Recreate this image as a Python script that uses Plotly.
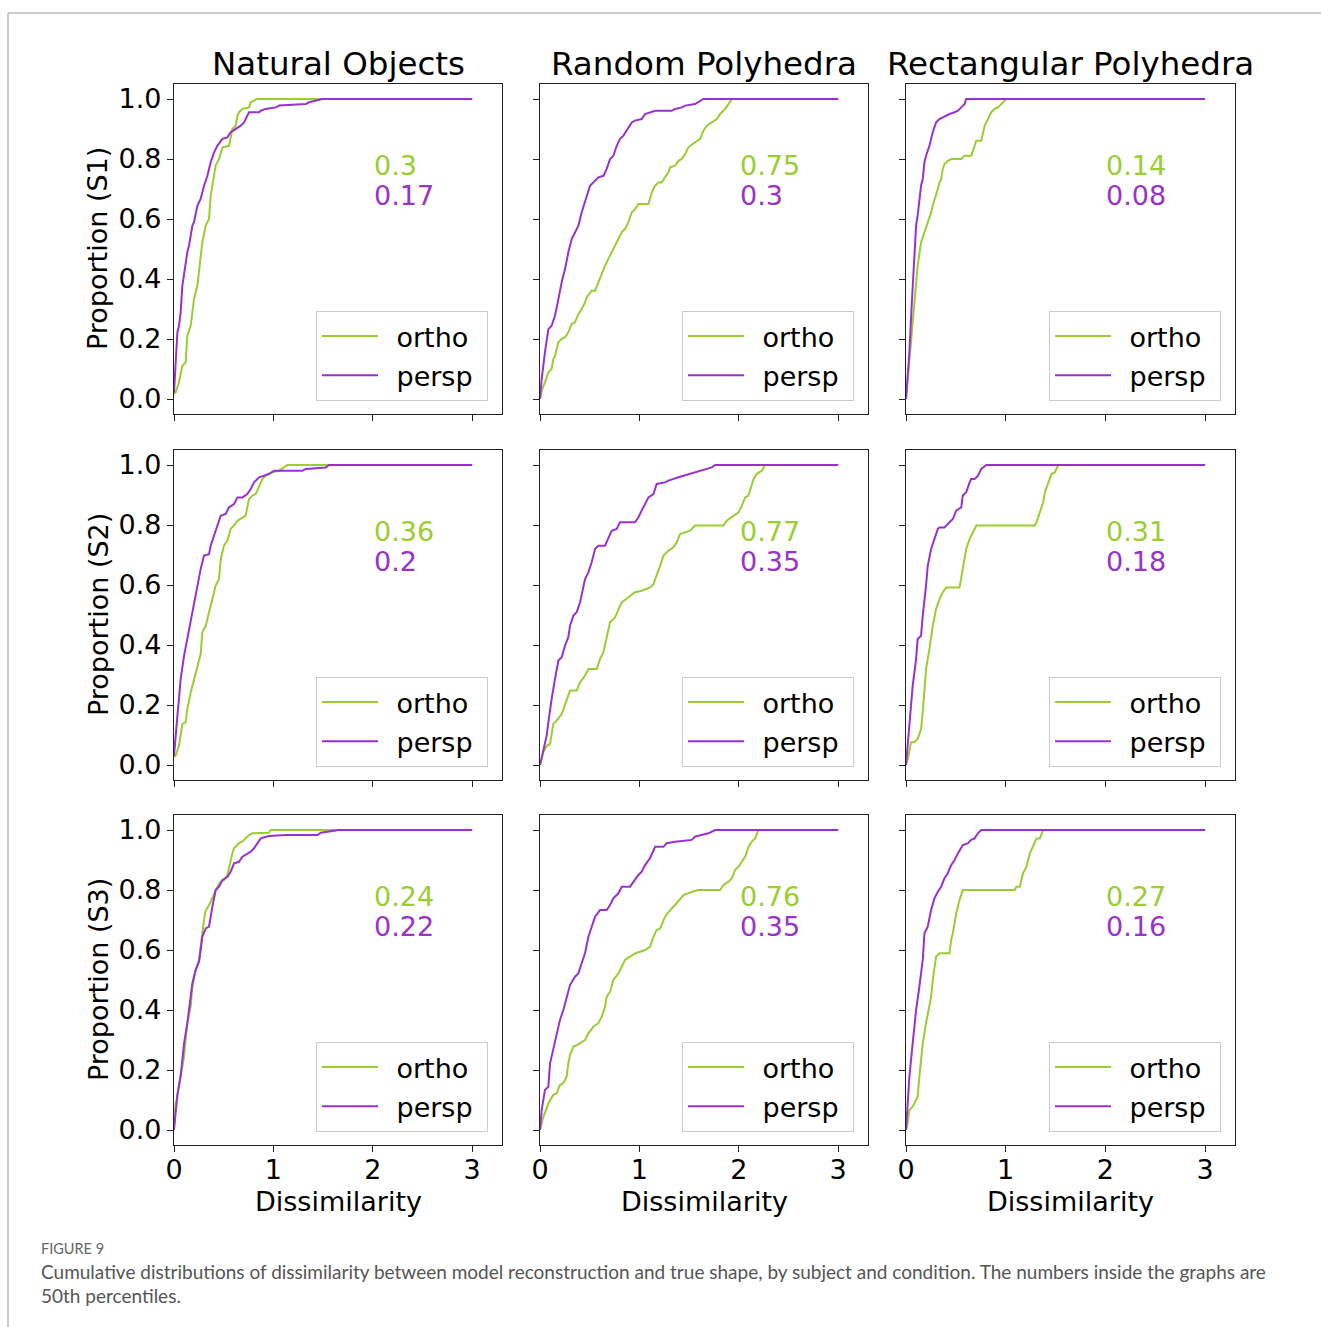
import plotly.graph_objects as go

# ---------------- data ----------------
conditions = ["Natural Objects", "Random Polyhedra", "Rectangular Polyhedra"]
subjects = ["Proportion (S1)", "Proportion (S2)", "Proportion (S3)"]
series_names = ["ortho", "persp"]
x_ticks = [0, 1, 2, 3]
y_ticks = [0.0, 0.2, 0.4, 0.6, 0.8, 1.0]

median_ortho = [["0.3", "0.75", "0.14"], ["0.36", "0.77", "0.31"], ["0.24", "0.76", "0.27"]]
median_persp = [["0.17", "0.3", "0.08"], ["0.2", "0.35", "0.18"], ["0.22", "0.35", "0.16"]]

# S1 - Natural Objects
no1_o_x = [0, 0.017, 0.05, 0.084, 0.117, 0.134, 0.168, 0.201, 0.235, 0.268, 0.285, 0.319, 0.352, 0.369, 0.403, 0.419, 0.453, 0.487, 0.554, 0.587, 0.621, 0.638, 0.654, 0.688, 0.755, 0.772, 0.822, 0.839, 3.0]
no1_o_y = [0.017, 0.022, 0.056, 0.111, 0.122, 0.211, 0.244, 0.333, 0.378, 0.467, 0.522, 0.578, 0.6, 0.678, 0.756, 0.778, 0.8, 0.839, 0.844, 0.9, 0.911, 0.944, 0.956, 0.967, 0.972, 0.989, 0.998, 1.0, 1.0]
no1_p_x = [0, 0.017, 0.034, 0.05, 0.067, 0.084, 0.101, 0.134, 0.151, 0.185, 0.201, 0.235, 0.268, 0.302, 0.336, 0.369, 0.403, 0.436, 0.487, 0.537, 0.570, 0.621, 0.671, 0.705, 0.738, 0.755, 0.856, 0.872, 0.923, 1.023, 1.057, 1.326, 1.359, 1.493, 3.0]
no1_p_y = [0.022, 0.111, 0.222, 0.244, 0.289, 0.378, 0.422, 0.489, 0.511, 0.578, 0.589, 0.644, 0.667, 0.711, 0.744, 0.789, 0.822, 0.844, 0.867, 0.872, 0.889, 0.9, 0.911, 0.922, 0.944, 0.956, 0.956, 0.961, 0.967, 0.972, 0.978, 0.983, 0.989, 1.0, 1.0]

# S1 - Random Polyhedra
rp1_o_x = [0, 0.017, 0.05, 0.084, 0.117, 0.134, 0.151, 0.185, 0.218, 0.252, 0.285, 0.319, 0.352, 0.386, 0.419, 0.453, 0.470, 0.520, 0.554, 0.587, 0.621, 0.654, 0.688, 0.721, 0.755, 0.789, 0.822, 0.856, 0.889, 0.923, 0.956, 0.990, 1.091, 1.124, 1.158, 1.191, 1.225, 1.258, 1.292, 1.309, 1.359, 1.393, 1.426, 1.460, 1.493, 1.560, 1.611, 1.644, 1.678, 1.728, 1.779, 1.812, 1.862, 1.896, 1.930, 3.0]
rp1_o_y = [0, 0.028, 0.056, 0.089, 0.1, 0.133, 0.144, 0.189, 0.2, 0.206, 0.222, 0.25, 0.256, 0.283, 0.3, 0.322, 0.339, 0.361, 0.361, 0.389, 0.411, 0.444, 0.467, 0.489, 0.511, 0.533, 0.556, 0.567, 0.589, 0.622, 0.633, 0.65, 0.65, 0.689, 0.711, 0.722, 0.722, 0.739, 0.756, 0.772, 0.778, 0.794, 0.8, 0.817, 0.839, 0.856, 0.867, 0.894, 0.911, 0.922, 0.933, 0.95, 0.967, 0.983, 1.0, 1.0]
rp1_p_x = [0, 0.017, 0.05, 0.084, 0.117, 0.151, 0.185, 0.218, 0.252, 0.285, 0.319, 0.352, 0.386, 0.419, 0.453, 0.487, 0.503, 0.537, 0.587, 0.638, 0.671, 0.705, 0.738, 0.772, 0.805, 0.839, 0.889, 0.923, 0.956, 1.023, 1.057, 1.124, 1.158, 1.326, 1.359, 1.426, 1.460, 1.560, 1.594, 1.644, 3.0]
rp1_p_y = [0, 0.067, 0.156, 0.233, 0.244, 0.278, 0.333, 0.389, 0.433, 0.489, 0.533, 0.556, 0.578, 0.622, 0.656, 0.689, 0.711, 0.722, 0.739, 0.744, 0.767, 0.8, 0.811, 0.844, 0.867, 0.878, 0.906, 0.922, 0.928, 0.933, 0.95, 0.956, 0.961, 0.961, 0.967, 0.972, 0.978, 0.983, 0.989, 1.0, 1.0]

# S1 - Rectangular Polyhedra
rr1_o_x = [0, 0.017, 0.044, 0.067, 0.091, 0.117, 0.151, 0.168, 0.201, 0.218, 0.252, 0.268, 0.302, 0.319, 0.336, 0.352, 0.369, 0.386, 0.419, 0.453, 0.554, 0.587, 0.654, 0.688, 0.705, 0.755, 0.789, 0.805, 0.839, 0.856, 0.889, 0.923, 0.956, 0.973, 1.007, 3.0]
rr1_o_y = [0, 0.067, 0.167, 0.267, 0.356, 0.444, 0.522, 0.539, 0.567, 0.589, 0.622, 0.644, 0.678, 0.7, 0.722, 0.733, 0.767, 0.783, 0.794, 0.8, 0.8, 0.811, 0.811, 0.844, 0.861, 0.861, 0.911, 0.922, 0.944, 0.956, 0.967, 0.972, 0.983, 0.989, 1.0, 1.0]
rr1_p_x = [0, 0.017, 0.034, 0.057, 0.084, 0.101, 0.117, 0.134, 0.151, 0.168, 0.185, 0.201, 0.235, 0.268, 0.302, 0.336, 0.369, 0.403, 0.436, 0.487, 0.520, 0.554, 0.587, 0.604, 3.0]
rr1_p_y = [0, 0.067, 0.156, 0.311, 0.489, 0.578, 0.611, 0.667, 0.711, 0.733, 0.789, 0.811, 0.844, 0.889, 0.922, 0.933, 0.939, 0.944, 0.95, 0.956, 0.961, 0.972, 0.983, 1.0, 1.0]

# S2 - Natural Objects
no2_o_x = [0, 0.017, 0.05, 0.084, 0.117, 0.134, 0.168, 0.201, 0.235, 0.268, 0.285, 0.319, 0.336, 0.369, 0.386, 0.419, 0.453, 0.470, 0.503, 0.537, 0.570, 0.604, 0.638, 0.671, 0.721, 0.755, 0.789, 0.822, 0.856, 0.889, 0.940, 0.990, 1.057, 1.107, 1.141, 3.0]
no2_o_y = [0.026, 0.031, 0.064, 0.137, 0.142, 0.187, 0.242, 0.287, 0.331, 0.37, 0.442, 0.464, 0.487, 0.531, 0.553, 0.598, 0.62, 0.687, 0.731, 0.748, 0.787, 0.798, 0.814, 0.82, 0.831, 0.887, 0.898, 0.903, 0.931, 0.953, 0.97, 0.976, 0.981, 0.992, 1.0, 1.0]
no2_p_x = [0, 0.017, 0.034, 0.05, 0.067, 0.101, 0.134, 0.168, 0.201, 0.235, 0.268, 0.302, 0.352, 0.369, 0.403, 0.436, 0.470, 0.520, 0.554, 0.604, 0.638, 0.688, 0.738, 0.772, 0.805, 0.856, 0.906, 0.956, 1.007, 1.292, 1.326, 1.527, 1.560, 3.0]
no2_p_y = [0.031, 0.109, 0.164, 0.22, 0.287, 0.364, 0.42, 0.476, 0.531, 0.598, 0.653, 0.698, 0.703, 0.731, 0.764, 0.798, 0.831, 0.837, 0.859, 0.87, 0.892, 0.892, 0.903, 0.92, 0.942, 0.959, 0.964, 0.97, 0.981, 0.981, 0.987, 0.992, 1.0, 1.0]

# S2 - Random Polyhedra
rp2_o_x = [0, 0.034, 0.067, 0.101, 0.134, 0.168, 0.218, 0.268, 0.302, 0.369, 0.403, 0.453, 0.487, 0.570, 0.604, 0.638, 0.671, 0.705, 0.755, 0.789, 0.822, 0.889, 0.956, 1.023, 1.107, 1.141, 1.174, 1.208, 1.242, 1.292, 1.342, 1.376, 1.409, 1.460, 1.510, 1.560, 1.846, 1.879, 1.930, 1.963, 1.997, 2.030, 2.064, 2.097, 2.131, 2.148, 2.181, 2.232, 2.265, 3.0]
rp2_o_y = [0, 0.042, 0.064, 0.07, 0.137, 0.148, 0.17, 0.214, 0.248, 0.248, 0.276, 0.298, 0.32, 0.32, 0.353, 0.376, 0.426, 0.476, 0.492, 0.52, 0.542, 0.559, 0.576, 0.581, 0.592, 0.603, 0.631, 0.664, 0.698, 0.714, 0.726, 0.742, 0.77, 0.776, 0.781, 0.798, 0.798, 0.814, 0.826, 0.831, 0.842, 0.864, 0.892, 0.898, 0.931, 0.953, 0.97, 0.981, 1.0, 1.0]
rp2_p_x = [0, 0.034, 0.067, 0.084, 0.101, 0.117, 0.151, 0.185, 0.218, 0.252, 0.285, 0.302, 0.336, 0.369, 0.403, 0.436, 0.453, 0.487, 0.520, 0.554, 0.587, 0.654, 0.688, 0.721, 0.772, 0.805, 0.956, 0.990, 1.023, 1.057, 1.091, 1.141, 1.174, 1.258, 1.292, 1.393, 1.560, 1.628, 1.678, 1.728, 1.762, 3.0]
rp2_p_y = [0, 0.053, 0.098, 0.142, 0.187, 0.22, 0.287, 0.348, 0.359, 0.398, 0.426, 0.464, 0.498, 0.509, 0.542, 0.587, 0.62, 0.642, 0.676, 0.72, 0.731, 0.731, 0.759, 0.781, 0.787, 0.809, 0.809, 0.826, 0.848, 0.87, 0.892, 0.903, 0.937, 0.942, 0.948, 0.959, 0.976, 0.981, 0.987, 0.992, 1.0, 1.0]

# S2 - Rectangular Polyhedra
rr2_o_x = [0, 0.023, 0.05, 0.084, 0.117, 0.151, 0.168, 0.201, 0.235, 0.268, 0.302, 0.336, 0.369, 0.403, 0.537, 0.570, 0.604, 0.638, 0.671, 0.705, 1.292, 1.309, 1.342, 1.376, 1.393, 1.426, 1.460, 1.493, 1.527, 3.0]
rr2_o_y = [0, 0.026, 0.076, 0.076, 0.087, 0.12, 0.176, 0.32, 0.387, 0.464, 0.52, 0.553, 0.576, 0.592, 0.592, 0.653, 0.72, 0.753, 0.776, 0.798, 0.798, 0.809, 0.842, 0.876, 0.909, 0.942, 0.97, 0.976, 1.0, 1.0]
rr2_p_x = [0, 0.017, 0.034, 0.067, 0.101, 0.117, 0.151, 0.168, 0.201, 0.218, 0.252, 0.285, 0.319, 0.336, 0.386, 0.436, 0.470, 0.503, 0.554, 0.570, 0.604, 0.638, 0.654, 0.688, 0.721, 0.755, 0.805, 3.0]
rr2_p_y = [0, 0.064, 0.153, 0.264, 0.353, 0.42, 0.431, 0.498, 0.598, 0.664, 0.72, 0.753, 0.787, 0.792, 0.792, 0.809, 0.82, 0.848, 0.859, 0.898, 0.909, 0.942, 0.953, 0.953, 0.964, 0.987, 1.0, 1.0]

# S3 - Natural Objects
no3_o_x = [0, 0.017, 0.034, 0.05, 0.084, 0.101, 0.117, 0.134, 0.168, 0.185, 0.218, 0.252, 0.268, 0.285, 0.302, 0.319, 0.336, 0.369, 0.403, 0.436, 0.470, 0.503, 0.537, 0.554, 0.570, 0.587, 0.604, 0.654, 0.688, 0.721, 0.755, 0.789, 0.956, 0.973, 3.0]
no3_o_y = [0.017, 0.089, 0.111, 0.156, 0.211, 0.244, 0.3, 0.356, 0.411, 0.478, 0.533, 0.567, 0.611, 0.667, 0.7, 0.733, 0.739, 0.761, 0.789, 0.811, 0.828, 0.833, 0.85, 0.878, 0.894, 0.922, 0.939, 0.956, 0.961, 0.972, 0.983, 0.989, 0.991, 1.0, 1.0]
no3_p_x = [0, 0.017, 0.034, 0.067, 0.101, 0.134, 0.151, 0.185, 0.218, 0.252, 0.268, 0.285, 0.319, 0.352, 0.386, 0.419, 0.453, 0.487, 0.537, 0.570, 0.604, 0.654, 0.688, 0.738, 0.772, 0.805, 0.839, 0.872, 0.956, 1.124, 1.443, 1.477, 1.628, 1.644, 3.0]
no3_p_y = [0, 0.067, 0.117, 0.178, 0.289, 0.356, 0.4, 0.489, 0.533, 0.561, 0.6, 0.644, 0.672, 0.678, 0.744, 0.8, 0.811, 0.833, 0.844, 0.861, 0.889, 0.894, 0.911, 0.922, 0.928, 0.939, 0.956, 0.972, 0.98, 0.983, 0.983, 0.991, 0.998, 1.0, 1.0]

# S3 - Random Polyhedra
rp3_o_x = [0, 0.034, 0.084, 0.134, 0.168, 0.201, 0.235, 0.268, 0.285, 0.302, 0.336, 0.369, 0.453, 0.487, 0.537, 0.587, 0.621, 0.654, 0.671, 0.705, 0.738, 0.789, 0.822, 0.856, 0.906, 0.956, 1.007, 1.057, 1.107, 1.141, 1.174, 1.208, 1.258, 1.309, 1.359, 1.409, 1.443, 1.493, 1.527, 1.594, 1.812, 1.846, 1.896, 1.930, 1.963, 1.997, 2.030, 2.064, 2.097, 2.131, 2.164, 2.198, 3.0]
rp3_o_y = [0, 0.044, 0.089, 0.117, 0.122, 0.15, 0.156, 0.178, 0.222, 0.25, 0.278, 0.283, 0.3, 0.322, 0.344, 0.356, 0.378, 0.411, 0.444, 0.461, 0.5, 0.522, 0.544, 0.567, 0.578, 0.589, 0.594, 0.6, 0.611, 0.644, 0.667, 0.672, 0.711, 0.733, 0.75, 0.772, 0.783, 0.789, 0.794, 0.8, 0.8, 0.817, 0.828, 0.839, 0.867, 0.878, 0.894, 0.911, 0.944, 0.961, 0.972, 1.0, 1.0]
rp3_p_x = [0, 0.017, 0.05, 0.084, 0.101, 0.134, 0.168, 0.201, 0.235, 0.268, 0.302, 0.352, 0.386, 0.419, 0.453, 0.487, 0.520, 0.554, 0.604, 0.671, 0.705, 0.738, 0.789, 0.822, 0.906, 0.940, 0.990, 1.023, 1.057, 1.107, 1.158, 1.242, 1.275, 1.359, 1.527, 1.560, 1.628, 1.695, 1.762, 3.0]
rp3_p_y = [0, 0.067, 0.133, 0.144, 0.222, 0.267, 0.322, 0.367, 0.4, 0.444, 0.483, 0.511, 0.522, 0.556, 0.589, 0.644, 0.678, 0.711, 0.733, 0.733, 0.75, 0.772, 0.789, 0.811, 0.811, 0.828, 0.85, 0.861, 0.883, 0.906, 0.944, 0.944, 0.956, 0.961, 0.967, 0.978, 0.983, 0.989, 1.0, 1.0]

# S3 - Rectangular Polyhedra
rr3_o_x = [0, 0.017, 0.034, 0.067, 0.101, 0.117, 0.134, 0.168, 0.201, 0.218, 0.252, 0.268, 0.285, 0.302, 0.336, 0.436, 0.453, 0.470, 0.503, 0.537, 0.570, 1.091, 1.107, 1.141, 1.174, 1.208, 1.242, 1.275, 1.309, 1.342, 1.376, 3.0]
rr3_o_y = [0, 0.022, 0.067, 0.078, 0.1, 0.111, 0.178, 0.289, 0.356, 0.389, 0.444, 0.5, 0.533, 0.578, 0.589, 0.589, 0.633, 0.656, 0.722, 0.767, 0.8, 0.8, 0.811, 0.811, 0.856, 0.878, 0.922, 0.944, 0.972, 0.972, 1.0, 1.0]
rr3_p_x = [0, 0.017, 0.034, 0.067, 0.101, 0.134, 0.168, 0.185, 0.218, 0.252, 0.285, 0.319, 0.352, 0.386, 0.419, 0.453, 0.487, 0.520, 0.570, 0.621, 0.654, 0.688, 0.721, 0.755, 3.0]
rr3_p_y = [0, 0.089, 0.178, 0.289, 0.4, 0.478, 0.567, 0.656, 0.678, 0.733, 0.772, 0.794, 0.811, 0.839, 0.856, 0.883, 0.9, 0.922, 0.95, 0.956, 0.967, 0.972, 0.989, 1.0, 1.0]

curves = [
    [((no1_o_x, no1_o_y), (no1_p_x, no1_p_y)), ((rp1_o_x, rp1_o_y), (rp1_p_x, rp1_p_y)), ((rr1_o_x, rr1_o_y), (rr1_p_x, rr1_p_y))],
    [((no2_o_x, no2_o_y), (no2_p_x, no2_p_y)), ((rp2_o_x, rp2_o_y), (rp2_p_x, rp2_p_y)), ((rr2_o_x, rr2_o_y), (rr2_p_x, rr2_p_y))],
    [((no3_o_x, no3_o_y), (no3_p_x, no3_p_y)), ((rp3_o_x, rp3_o_y), (rp3_p_x, rp3_p_y)), ((rr3_o_x, rr3_o_y), (rr3_p_x, rr3_p_y))],
]

# ---------------- styling / layout ----------------
W, H = 1321, 1327
GREEN = "#9ACD32"
PURPLE = "#9932CC"
COLORS = [GREEN, PURPLE]
FONT = "DejaVu Sans"
BASE = 27
col_px = [(174, 502), (540, 868), (906, 1235)]
row_px = [(84, 414), (450, 780), (815, 1145)]
GAP = "\u2002"      # en space between legend line and label
TAIL = "\u00a0"     # right padding inside legend box

fig = go.Figure()
layout = dict(
    width=W, height=H,
    margin=dict(l=0, r=0, t=0, b=0, autoexpand=False),
    paper_bgcolor="white", plot_bgcolor="white",
    font=dict(family=FONT, size=BASE, color="black"),
    annotations=[], shapes=[],
)

for r in range(3):
    for c in range(3):
        k = r * 3 + c + 1
        xs = "" if k == 1 else str(k)
        leg = "legend" if k == 1 else f"legend{k}"
        for s in range(2):
            xv, yv = curves[r][c][s]
            fig.add_trace(go.Scatter(
                x=xv, y=yv, mode="lines", name=GAP + series_names[s] + TAIL,
                line=dict(color=COLORS[s], width=2),
                xaxis=f"x{xs}", yaxis=f"y{xs}", legend=leg,
                legendgroup=f"g{k}_{s}", showlegend=True,
            ))
        x0, x1 = col_px[c]
        y0, y1 = row_px[r]
        axstyle = dict(showline=True, mirror=True, linecolor="#222", linewidth=1.3,
                       ticks="outside", ticklen=6, tickwidth=1.3, tickcolor="#222",
                       showgrid=False, zeroline=False, automargin=False,
                       tickfont=dict(family=FONT, size=BASE, color="black"))
        layout[f"xaxis{xs}"] = dict(domain=[x0 / W, x1 / W], anchor=f"y{xs}",
                                    range=[0, 3.3], tickvals=x_ticks, ticklabelstandoff=-6,
                                    showticklabels=(r == 2), **axstyle)
        layout[f"yaxis{xs}"] = dict(domain=[1 - y1 / H, 1 - y0 / H], anchor=f"x{xs}",
                                    range=[-0.05, 1.05], tickvals=y_ticks, tickformat=".1f",
                                    showticklabels=(c == 0), **axstyle)
        layout[leg] = dict(x=(x1 - 14) / W, y=1 - (y1 - 13) / H, xanchor="right", yanchor="bottom",
                           bgcolor="rgba(255,255,255,0.85)", bordercolor="#cccccc", borderwidth=1,
                           font=dict(family=FONT, size=BASE, color="black"), itemwidth=56,
                           tracegroupgap=1)
        # median annotations
        layout["annotations"].append(dict(x=2.0, y=0.78, xref=f"x{xs}", yref=f"y{xs}",
                                          text=median_ortho[r][c], showarrow=False, xanchor="left",
                                          yanchor="middle", borderpad=0,
                                          font=dict(family=FONT, size=BASE, color=GREEN)))
        layout["annotations"].append(dict(x=2.0, y=0.68, xref=f"x{xs}", yref=f"y{xs}",
                                          text=median_persp[r][c], showarrow=False, xanchor="left",
                                          yanchor="middle", borderpad=0,
                                          font=dict(family=FONT, size=BASE, color=PURPLE)))

# column titles and x labels
for c in range(3):
    x0, x1 = col_px[c]
    layout["annotations"].append(dict(x=(x0 + x1) / 2 / W, y=1 - 64 / H, xref="paper", yref="paper",
                                      text=conditions[c], showarrow=False, xanchor="center", yanchor="middle",
                                      font=dict(family=FONT, size=32.5, color="black")))
    layout["annotations"].append(dict(x=(x0 + x1) / 2 / W, y=1 - 1201 / H, xref="paper", yref="paper",
                                      text="Dissimilarity", showarrow=False, xanchor="center", yanchor="middle",
                                      font=dict(family=FONT, size=BASE, color="black")))
# row labels
for r in range(3):
    y0, y1 = row_px[r]
    layout["annotations"].append(dict(x=98 / W, y=1 - (y0 + y1) / 2 / H, xref="paper", yref="paper",
                                      text=subjects[r], showarrow=False, textangle=-90,
                                      xanchor="center", yanchor="middle",
                                      font=dict(family=FONT, size=BASE, color="black")))

# caption
layout["annotations"].append(dict(x=40 / W, y=1 - 1248 / H, xref="paper", yref="paper", text="FIGURE 9",
                                  showarrow=False, xanchor="left", yanchor="middle", borderpad=0,
                                  font=dict(family="Lato", size=14.5, color="#666666")))
layout["annotations"].append(dict(x=40 / W, y=1 - 1271 / H, xref="paper", yref="paper",
                                  text="Cumulative distributions of dissimilarity between model reconstruction and true shape, by subject and condition. The numbers inside the graphs are",
                                  showarrow=False, xanchor="left", yanchor="middle", borderpad=0,
                                  font=dict(family="Lato", size=19, color="#555555")))
layout["annotations"].append(dict(x=40 / W, y=1 - 1295 / H, xref="paper", yref="paper",
                                  text="50th percentiles.",
                                  showarrow=False, xanchor="left", yanchor="middle", borderpad=0,
                                  font=dict(family="Lato", size=19, color="#555555")))

# page frame
layout["shapes"].append(dict(type="line", xref="paper", yref="paper", x0=8 / W, x1=1, y0=1 - 13 / H, y1=1 - 13 / H,
                             line=dict(color="#999999", width=1)))
layout["shapes"].append(dict(type="line", xref="paper", yref="paper", x0=8 / W, x1=8 / W, y0=0, y1=1 - 13 / H,
                             line=dict(color="#999999", width=1)))

fig.update_layout(**layout)
fig.write_html("out.html")
